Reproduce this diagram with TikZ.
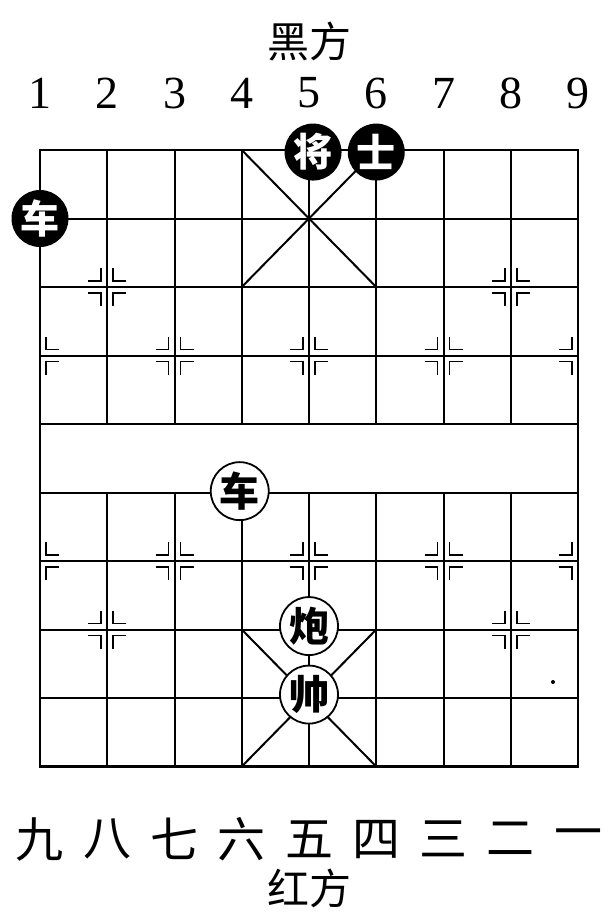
\documentclass[tikz,border=0pt]{standalone}
\usepackage{fontspec}
\setmainfont{Liberation Serif}
\newfontfamily\cjk{Noto Sans CJK SC}
\tikzset{
  pics/lmark/.style={code={
    \draw[line width=1.6pt] (-19pt,6pt) -- (-6pt,6pt) -- (-6pt,19pt);
    \draw[line width=1.6pt] (-19pt,-6pt) -- (-6pt,-6pt) -- (-6pt,-19pt);}},
  pics/rmark/.style={code={
    \draw[line width=1.6pt] (19pt,6pt) -- (6pt,6pt) -- (6pt,19pt);
    \draw[line width=1.6pt] (19pt,-6pt) -- (6pt,-6pt) -- (6pt,-19pt);}}
}
\begin{document}
\begin{tikzpicture}[x=67.25pt,y=-68.5pt,
  gridline/.style={line width=2pt},
  border/.style={line width=2.8pt},
  blackpiece/.style={circle,fill=black,text=white,minimum size=57pt,inner sep=0pt,
    font=\cjk\bfseries\fontsize{39}{39}\selectfont},
  redpiece/.style={circle,fill=white,draw=black,line width=1.8pt,minimum size=58pt,inner sep=0pt,
    font=\cjk\bfseries\fontsize{40}{40}\selectfont},
  numlabel/.style={font=\fontsize{46}{46}\selectfont,inner sep=0pt},
  cnlabel/.style={font=\cjk\fontsize{48}{48}\selectfont,inner sep=0pt},
  sidelabel/.style={font=\cjk\fontsize{42}{42}\selectfont,inner sep=0pt}]
\useasboundingbox (-40pt,150pt) rectangle (565pt,-764pt);
% grid
\foreach \r in {0,...,9} \draw[gridline] (0,\r) -- (8,\r);
\foreach \c in {1,...,7} {\draw[gridline] (\c,0) -- (\c,4); \draw[gridline] (\c,5) -- (\c,9);}
\draw[border] (0,0) rectangle (8,9);
% palaces
\draw[gridline] (3,0) -- (5,2) (5,0) -- (3,2);
\draw[gridline] (3,7) -- (5,9) (5,7) -- (3,9);
% position marks
\foreach \c/\r in {1/2,7/2,1/7,7/7} {\pic at (\c,\r) {lmark}; \pic at (\c,\r) {rmark};}
\foreach \c in {2,4,6} {\pic at (\c,3) {lmark}; \pic at (\c,3) {rmark}; \pic at (\c,6) {lmark}; \pic at (\c,6) {rmark};}
\pic at (0,3) {rmark}; \pic at (0,6) {rmark};
\pic at (8,3) {lmark}; \pic at (8,6) {lmark};
% labels
\node[sidelabel] (black) at (4,-1.58) {黑方};
\foreach \n [count=\i from 0] in {1,...,9} \node[numlabel] (top\n) at (\i,-0.83) {\n};
\foreach \t [count=\i from 0] in {九,八,七,六,五,四,三,二,一} \node[cnlabel] (bot\i) at (\i,10.06) {\t};
\node[sidelabel] (red) at (4,10.78) {红方};
% pieces
\node[blackpiece] (bj) at (4.06,0.03) {将};
\node[blackpiece] (bs) at (5,0.03) {士};
\node[blackpiece] (bc) at (0,1) {车};
\node[redpiece] (rc) at (2.97,4.98) {车};
\node[redpiece] (rp) at (4,6.95) {炮};
\node[redpiece] (rs) at (4,7.95) {帅};
\fill (513pt,-532pt) circle (2pt);
\end{tikzpicture}
\end{document}
